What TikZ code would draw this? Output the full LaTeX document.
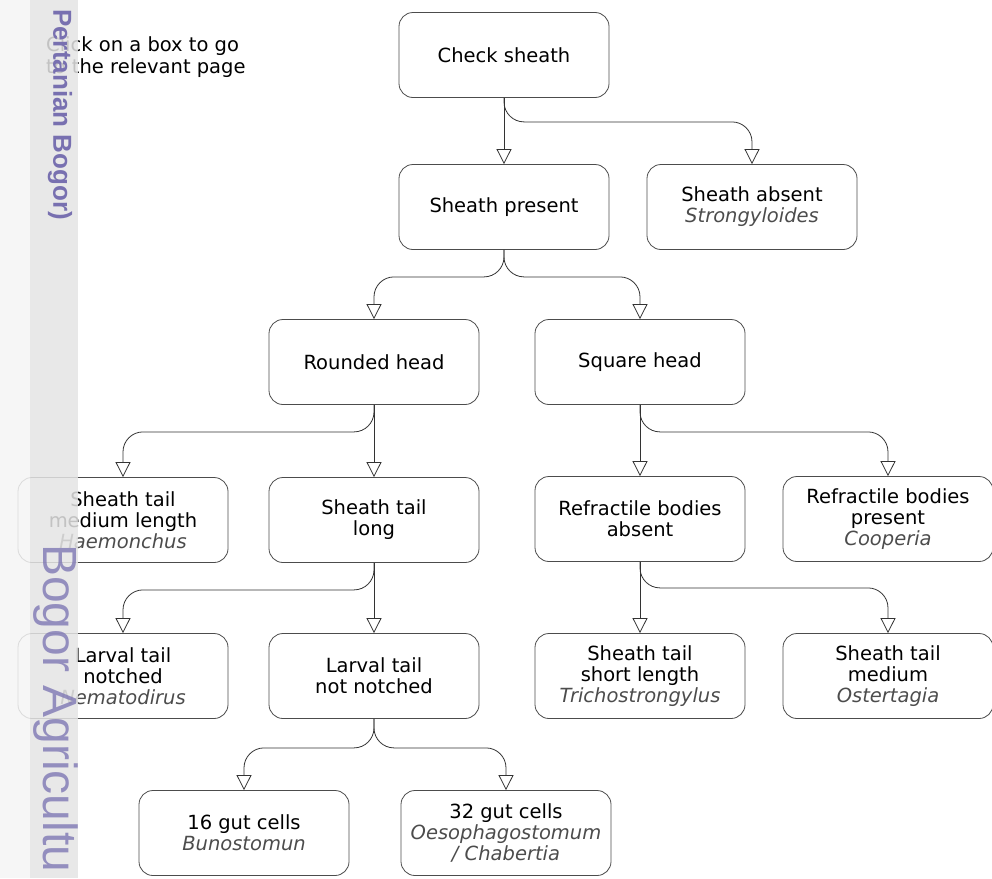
\documentclass[tikz,border=0pt]{standalone}
\usepackage{fontspec}
\setmainfont{DejaVu Sans}
\newfontfamily\markfont{Liberation Sans}
\usetikzlibrary{arrows.meta}
\definecolor{markpurple}{RGB}{120,112,176}
\definecolor{stripgray}{RGB}{228,228,228}
\definecolor{edgegray}{RGB}{244,244,244}
\tikzset{
  keybox/.style={draw=black!70, line width=0.8pt, rounded corners=14pt,
    minimum width=210pt, minimum height=85pt, align=center, inner sep=2pt,
    font=\fontsize{19.5}{21}\selectfont},
  link/.style={draw=black!80, line width=0.8pt,
    -{Triangle[length=15pt,width=15pt,fill=white]}},
  branch/.style={link, rounded corners=20pt},
}
\newcommand{\genus}[1]{{\itshape\color{black!70}#1}}
\begin{document}
\begin{tikzpicture}[x=1pt,y=-1pt]
  \useasboundingbox (0,0) rectangle (992,878);
  % boxes
  \node[keybox] (check) at (504,55) {Check sheath};
  \node[keybox] (present) at (504,207) {Sheath present};
  \node[keybox] (absent) at (752,207) {Sheath absent\\\genus{Strongyloides}};
  \node[keybox] (rounded) at (374,362) {Rounded head};
  \node[keybox] (square) at (640,362) {Square head};
  \node[keybox] (haem) at (123,520) {Sheath tail\\medium length\\\genus{Haemonchus}};
  \node[keybox] (long) at (374,520) {Sheath tail\\long};
  \node[keybox] (refabs) at (640,519) {Refractile bodies\\absent};
  \node[keybox] (refpres) at (888,519) {Refractile bodies\\present\\\genus{Cooperia}};
  \node[keybox] (notched) at (123,676) {Larval tail\\notched\\\genus{Nematodirus}};
  \node[keybox] (notnotched) at (374,676) {Larval tail\\not notched};
  \node[keybox] (short) at (640,676) {Sheath tail\\short length\\\genus{Trichostrongylus}};
  \node[keybox] (medium) at (888,676) {Sheath tail\\medium\\\genus{Ostertagia}};
  \node[keybox] (gut16) at (244,833) {16 gut cells\\\genus{Bunostomun}};
  \node[keybox] (gut32) at (506,833) {32 gut cells\\\genus{Oesophagostomum}\\\genus{/ Chabertia}};
  \node[anchor=north west, align=left, inner sep=0pt,
    font=\fontsize{19.5}{22}\selectfont] (hint) at (46,36)
    {Click on a box to go\\to the relevant page};
  % connectors
  \draw[link] (check) -- (present);
  \draw[branch] (check.south) -- ++(0,24) -| (absent.north);
  \draw[branch] (present.south) -- ++(0,27) -| (rounded.north);
  \draw[branch] (present.south) -- ++(0,27) -| (square.north);
  \draw[link] (rounded) -- (long);
  \draw[branch] (rounded.south) -- ++(0,27) -| (haem.north);
  \draw[link] (square) -- (refabs);
  \draw[branch] (square.south) -- ++(0,27) -| (refpres.north);
  \draw[link] (long) -- (notnotched);
  \draw[branch] (long.south) -- ++(0,27) -| (notched.north);
  \draw[link] (refabs) -- (short);
  \draw[branch] (refabs.south) -- ++(0,26) -| (medium.north);
  \draw[branch] (notnotched.south) -- ++(0,29) -| (gut16.north);
  \draw[branch] (notnotched.south) -- ++(0,29) -| (gut32.north);
  % watermark strip
  \fill[edgegray, opacity=0.85] (0,0) rectangle (30,878);
  \fill[stripgray, opacity=0.85] (30,0) rectangle (78,878);
  \node[markpurple, rotate=-90, anchor=west, inner sep=0pt,
    font=\markfont\bfseries\fontsize{26}{30}\selectfont] (mark) at (60,9)
    {Pertanian Bogor)};
  \node[markpurple, opacity=0.75, rotate=-90, anchor=west, inner sep=0pt,
    font=\markfont\fontsize{48}{54}\selectfont] (brand) at (56,544)
    {Bogor Agricultu};
\end{tikzpicture}
\end{document}
